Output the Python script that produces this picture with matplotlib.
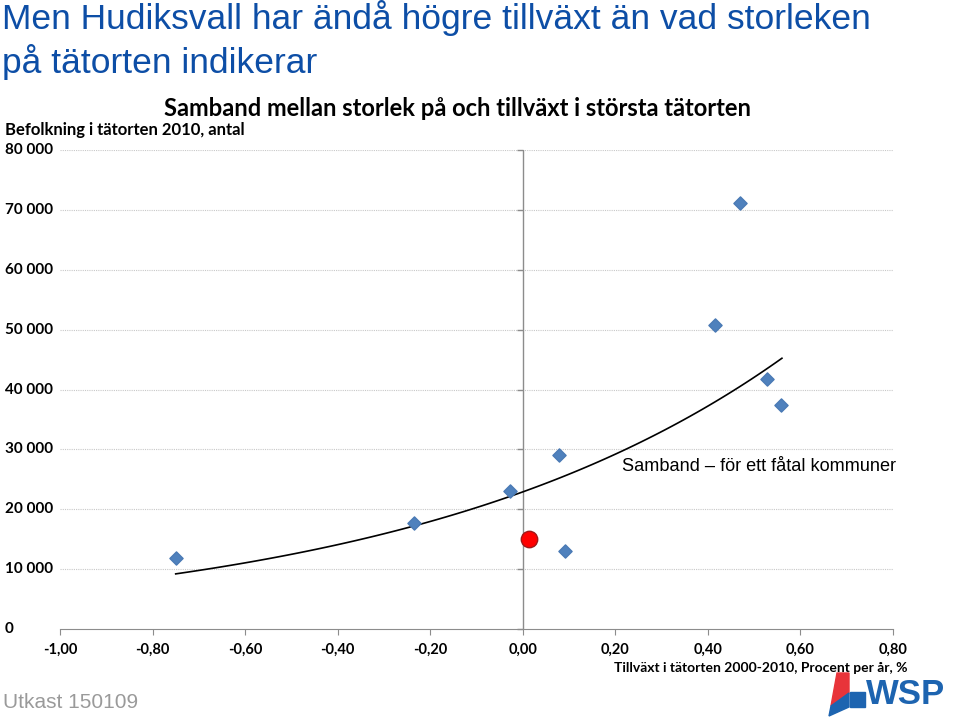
import numpy as np
import matplotlib
matplotlib.use("Agg")
import matplotlib.pyplot as plt
from matplotlib.patches import Polygon
from matplotlib.transforms import blended_transform_factory

# data
growth = [-0.75, -0.235, -0.028, 0.078, 0.091, 0.415, 0.469, 0.527, 0.559]
population = [11900, 17700, 23000, 29000, 13000, 50750, 71100, 41700, 37400]
hudik_growth = [0.013]
hudik_pop = [15000]

# exponential trend y = a*exp(b*x)
trend_a = 22900
trend_b = 1.215
trend_range = [-0.75, 0.56]

x_ticks = [-1.0, -0.8, -0.6, -0.4, -0.2, 0.0, 0.2, 0.4, 0.6, 0.8]
y_ticks = [0, 10000, 20000, 30000, 40000, 50000, 60000, 70000, 80000]

calibri = ["Lato", "DejaVu Sans"]
arial = ["Liberation Sans", "DejaVu Sans"]

fig = plt.figure(figsize=(9.6, 7.26), dpi=100)
ax = fig.add_axes([60 / 960, 1 - 629 / 726, 833 / 960, 479 / 726])

ax.set_xlim(-1.0, 0.8)
ax.set_ylim(0, 80000)

# gridlines
for y in y_ticks[1:]:
    ax.axhline(y, color="#c8c8c8", lw=0.8, ls=(0, (1, 1)), zorder=0)

for s in ["top", "right", "left"]:
    ax.spines[s].set_visible(False)
ax.spines["bottom"].set_color("#8c8c8c")
ax.axvline(0, color="#8c8c8c", lw=1, zorder=1)
ax.plot(np.zeros(len(y_ticks)), y_ticks, ls="none", marker=0, ms=4,
        mec="#8c8c8c", mew=1, zorder=1, clip_on=False)

ax.set_xticks(x_ticks)
ax.set_xticklabels([f"{v:.2f}".replace(".", ",") for v in x_ticks])
ax.tick_params(axis="x", direction="out", length=4, color="#8c8c8c", pad=6)
for lab in ax.get_xticklabels():
    lab.set_family(calibri)
    lab.set_fontweight("bold")
    lab.set_fontsize(10.5)

# y labels sit at the far left of the figure
ax.set_yticks([])
ytrans = blended_transform_factory(fig.transFigure, ax.transData)
for v in y_ticks:
    fig.text(5 / 960, v, f"{v:,}".replace(",", " "), transform=ytrans,
             family=calibri, fontweight="bold", fontsize=11, va="center", ha="left")

# trend line
tx = np.linspace(trend_range[0], trend_range[1], 100)
ax.plot(tx, trend_a * np.exp(trend_b * tx), color="black", lw=1.2, zorder=2)

ax.scatter(growth, population, marker="D", s=45, color="#4f81bd",
           edgecolor="#4a7ab5", zorder=3)
ax.scatter(hudik_growth, hudik_pop, marker="o", s=140, color="#ff0000",
           edgecolor="#a01818", lw=1, zorder=4)

ax.text(0.214, 27200, "Samband – för ett fåtal kommuner", family=arial,
        fontsize=13.1, va="center", ha="left")

fig.text(2 / 960, 1 - 29 / 726, "Men Hudiksvall har ändå högre tillväxt än vad storleken",
         family=arial, fontsize=25.5, color="#0d4ea6", va="baseline")
fig.text(2 / 960, 1 - 73 / 726, "på tätorten indikerar",
         family=arial, fontsize=25.5, color="#0d4ea6", va="baseline")
fig.text(458 / 960, 1 - 108 / 726, "Samband mellan storlek på och tillväxt i största tätorten",
         family=calibri, fontweight="bold", fontsize=17.1, ha="center", va="center")
fig.text(5 / 960, 1 - 130 / 726, "Befolkning i tätorten 2010, antal",
         family=calibri, fontweight="bold", fontsize=12, va="center")
fig.text(908 / 960, 1 - 668 / 726, "Tillväxt i tätorten 2000-2010, Procent per år, %",
         family=calibri, fontweight="bold", fontsize=10, ha="right", va="center")
fig.text(3 / 960, 1 - 703 / 726, "Utkast 150109", family=arial, fontsize=15,
         color="#9a9a9a", va="center")

# WSP logo
lx = fig.add_axes([820 / 960, 0, 140 / 960, 56 / 726])
lx.set_xlim(0, 140)
lx.set_ylim(56, 0)
lx.axis("off")
lx.add_patch(Polygon([[11, 36], [17, 3], [29, 3], [29, 23]], color="#e8343a"))
lx.add_patch(Polygon([[9, 46], [11, 36], [29, 23], [29, 37]], color="#1d64b0"))
lx.add_patch(Polygon([[30, 22], [45, 22], [45, 37], [30, 37]], color="#1d64b0"))
lx.text(46, 24, "WSP", family=arial, fontweight="bold", fontsize=25,
        color="#1d64b0", va="center", ha="left")

fig.savefig("out.png", dpi=100)
